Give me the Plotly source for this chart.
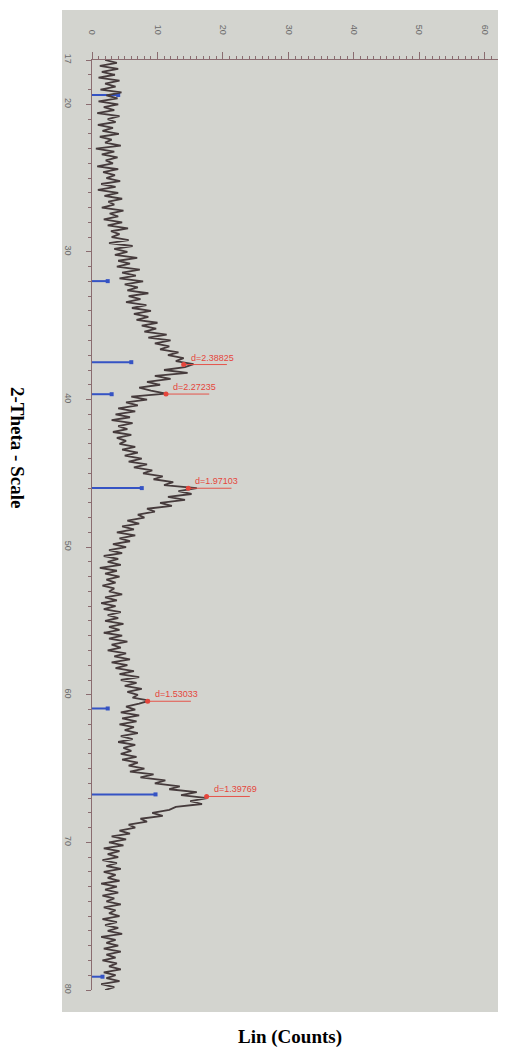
import plotly.graph_objects as go

# ---------------- data ----------------
two_theta_start = 17.0
two_theta_step = 0.2
counts = [
    2.0, 3.8, 1.2, 4.0, 1.5,   # 17
    3.5, 1.0, 4.2, 2.0, 3.6,   # 18
    1.3, 4.5, 2.2, 3.9, 1.0,   # 19
    4.0, 1.8, 3.4, 0.8, 4.2,   # 20
    2.4, 3.6, 0.9, 3.2, 1.6,   # 21
    4.1, 1.2, 3.0, 2.0, 4.4,   # 22
    0.6, 3.4, 1.5, 3.9, 2.1,   # 23
    3.2, 0.8, 4.0, 1.7, 3.5,   # 24
    2.2, 4.3, 1.4, 3.6, 0.9,   # 25
    4.0, 1.9, 4.6, 2.5, 3.4,   # 26
    1.5, 4.8, 2.7, 4.0, 1.8,   # 27
    4.6, 2.4, 5.5, 2.9, 4.2,   # 28
    3.0, 5.6, 2.6, 6.2, 3.4,   # 29
    5.4, 3.5, 6.9, 4.0, 5.8,   # 30
    3.8, 7.3, 4.6, 6.7, 4.2,   # 31
    7.8, 5.0, 7.0, 5.4, 8.6,   # 32
    5.6, 7.4, 5.2, 8.3, 6.1,   # 33
    9.0, 6.4, 8.6, 6.8, 10.0,  # 34
    7.6, 9.8, 8.0, 11.4, 8.6,  # 35
    12.0, 9.6, 11.8, 10.4, 13.2,  # 36
    11.6, 14.0, 12.8, 15.5, 14.2,  # 37
    11.0, 14.6, 9.6, 12.0, 8.4,  # 38
    10.4, 7.2, 9.0, 11.3, 6.0,  # 39
    8.4, 5.2, 7.0, 4.0, 6.6,   # 40
    3.6, 5.8, 3.0, 6.2, 4.0,   # 41
    5.4, 3.2, 6.0, 3.8, 5.2,   # 42
    4.2, 6.6, 4.6, 7.0, 5.0,   # 43
    7.6, 5.6, 8.4, 6.4, 9.2,   # 44
    7.8, 10.8, 9.4, 12.4, 11.0,  # 45
    16.0, 13.2, 15.2, 11.6, 14.2,  # 46
    10.4, 12.2, 8.4, 9.6, 7.0,  # 47
    8.0, 5.4, 7.2, 4.6, 6.4,   # 48
    3.8, 6.6, 4.2, 5.8, 3.2,   # 49
    5.2, 2.6, 4.6, 1.8, 4.0,   # 50
    2.4, 4.4, 1.2, 3.8, 2.0,   # 51
    4.2, 2.2, 3.6, 1.6, 3.4,   # 52
    2.6, 4.6, 2.0, 3.8, 1.4,   # 53
    3.6, 1.8, 4.4, 2.4, 4.0,   # 54
    2.0, 4.8, 2.6, 4.2, 1.8,   # 55
    4.6, 2.6, 5.4, 3.0, 4.4,   # 56
    2.4, 5.2, 3.4, 5.8, 3.0,   # 57
    5.4, 3.6, 6.4, 4.2, 7.2,   # 58
    4.4, 6.8, 5.0, 7.6, 5.4,   # 59
    7.0, 6.2, 8.8, 7.2, 5.2,   # 60
    6.6, 4.4, 7.2, 4.6, 6.8,   # 61
    4.2, 6.4, 5.0, 7.0, 4.4,   # 62
    6.2, 4.0, 6.6, 4.8, 6.0,   # 63
    4.4, 6.8, 4.6, 7.0, 5.6,   # 64
    8.0, 5.8, 9.4, 7.4, 11.2,  # 65
    9.6, 13.4, 11.8, 16.0, 13.6,  # 66
    17.6, 15.0, 16.8, 12.8, 11.8,  # 67
    9.2, 10.8, 7.4, 8.4, 5.6,  # 68
    6.6, 4.2, 5.8, 3.0, 5.2,   # 69
    2.6, 4.8, 1.8, 4.2, 2.4,   # 70
    4.0, 1.6, 3.8, 2.2, 4.4,   # 71
    1.8, 3.6, 2.4, 4.2, 1.4,   # 72
    3.8, 2.0, 4.0, 1.6, 3.4,   # 73
    2.2, 4.4, 1.8, 3.6, 2.6,   # 74
    4.2, 1.6, 3.8, 2.0, 4.0,   # 75
    2.4, 4.6, 1.4, 3.6, 2.2,   # 76
    4.0, 1.8, 4.4, 2.2, 3.6,   # 77
    1.6, 3.8, 2.6, 4.4, 1.8,   # 78
    3.6, 2.2, 4.2, 1.4, 3.4,   # 79
    2.0,                       # 80
]
two_theta = [round(two_theta_start + two_theta_step * i, 1) for i in range(len(counts))]

# reference stick pattern (blue)
ref_2theta = [19.37, 31.98, 37.47, 39.64, 46.0, 60.93, 66.75, 79.1]
ref_counts = [4.0, 2.4, 6.0, 3.0, 7.6, 2.4, 9.7, 1.6]

# identified peaks (red)
peak_2theta = [37.63, 39.63, 46.01, 60.44, 66.89]
peak_counts = [14.0, 11.3, 14.7, 8.5, 17.5]
peak_labels = ["d=2.38825", "d=2.27235", "d=1.97103", "d=1.53033", "d=1.39769"]

x_tick_vals = [0, 10, 20, 30, 40, 50, 60]
y_tick_vals = [17, 20, 30, 40, 50, 60, 70, 80]

x_title = "Lin (Counts)"
y_title = "2-Theta - Scale"

# ---------------- layout geometry ----------------
# page has an 8px body margin: the figure starts at page pixel (8, 8)
OFF = 8
W, H = 506 - OFF, 1052 - OFF
L, T = 92 - OFF, 60 - OFF
R = W - (498 - OFF)
B = H - (990 - OFF)
plot_w = W - L - R
plot_h = H - T - B


def pxx(x):
    """page pixel x -> paper coordinate"""
    return (x - OFF - L) / plot_w


def pyy(y):
    """page pixel y -> paper coordinate"""
    return (H - B - (y - OFF)) / plot_h


axis_col = "#8a6c70"
label_col = "#6a6a6a"
red = "#e5463c"
blue = "#3553c4"

fig = go.Figure()

# blue reference sticks
sx, sy = [], []
for t, c in zip(ref_2theta, ref_counts):
    sx += [0, c, None]
    sy += [t, t, None]
fig.add_trace(go.Scatter(x=sx, y=sy, mode="lines",
                         line=dict(color=blue, width=2), hoverinfo="skip"))
fig.add_trace(go.Scatter(x=ref_counts, y=ref_2theta, mode="markers",
                         marker=dict(symbol="square", size=4, color=blue),
                         hoverinfo="skip"))

# measured pattern
fig.add_trace(go.Scatter(x=counts, y=two_theta, mode="lines",
                         line=dict(color="#463b3c", width=1.8)))

# red peak markers with underlines
ux, uy = [], []
for t, c in zip(peak_2theta, peak_counts):
    ux += [c, c + 6.6, None]
    uy += [t, t, None]
fig.add_trace(go.Scatter(x=ux, y=uy, mode="lines",
                         line=dict(color=red, width=0.9), hoverinfo="skip"))
fig.add_trace(go.Scatter(x=peak_counts, y=peak_2theta, mode="markers",
                         marker=dict(symbol="circle", size=5, color=red),
                         hoverinfo="skip"))

annotations = []
for t, c, lab in zip(peak_2theta, peak_counts, peak_labels):
    annotations.append(dict(x=c, y=t, xref="x", yref="y", text=lab,
                            showarrow=False, xanchor="left", yanchor="bottom",
                            xshift=5, yshift=0,
                            font=dict(family="Liberation Sans", size=9, color=red)))

annotations.append(dict(x=pxx(18), y=pyy(447), xref="paper", yref="paper",
                        text="<b>" + y_title + "</b>", textangle=90, showarrow=False,
                        xanchor="center", yanchor="middle",
                        font=dict(family="Liberation Serif", size=19, color="black")))
annotations.append(dict(x=pxx(290), y=pyy(1037), xref="paper", yref="paper",
                        text="<b>" + x_title + "</b>", showarrow=False,
                        xanchor="center", yanchor="middle",
                        font=dict(family="Liberation Serif", size=19, color="black")))

shapes = [dict(type="rect", xref="paper", yref="paper",
               x0=pxx(62), x1=pxx(506), y0=pyy(1012), y1=pyy(10),
               fillcolor="#d3d4cf", line=dict(width=0), layer="below")]

fig.update_layout(
    width=W, height=H,
    margin=dict(l=L, r=R, t=T, b=B, pad=0),
    paper_bgcolor="white",
    plot_bgcolor="rgba(0,0,0,0)",
    showlegend=False,
    annotations=annotations,
    shapes=shapes,
    xaxis=dict(range=[0, 62], side="top", showline=True, linecolor=axis_col,
               linewidth=1.2, ticks="outside", ticklen=7, tickwidth=1,
               tickcolor=axis_col, tickmode="array", tickvals=x_tick_vals,
               tickangle=90, ticklabelstandoff=14,
               tickfont=dict(family="Liberation Sans", size=9, color=label_col),
               showgrid=False, zeroline=False,
               minor=dict(dtick=1, tick0=0, ticks="outside", ticklen=3,
                          tickcolor=axis_col, showgrid=False)),
    yaxis=dict(range=[80, 17], showline=True, linecolor=axis_col,
               linewidth=1.2, ticks="outside", ticklen=5, tickwidth=1,
               tickcolor=axis_col, tickmode="array", tickvals=y_tick_vals,
               tickangle=90, ticklabelstandoff=10,
               tickfont=dict(family="Liberation Sans", size=9, color=label_col),
               showgrid=False, zeroline=False,
               minor=dict(dtick=1, tick0=0, ticks="outside", ticklen=3,
                          tickcolor=axis_col, showgrid=False)),
)

fig.write_html("out.html")
